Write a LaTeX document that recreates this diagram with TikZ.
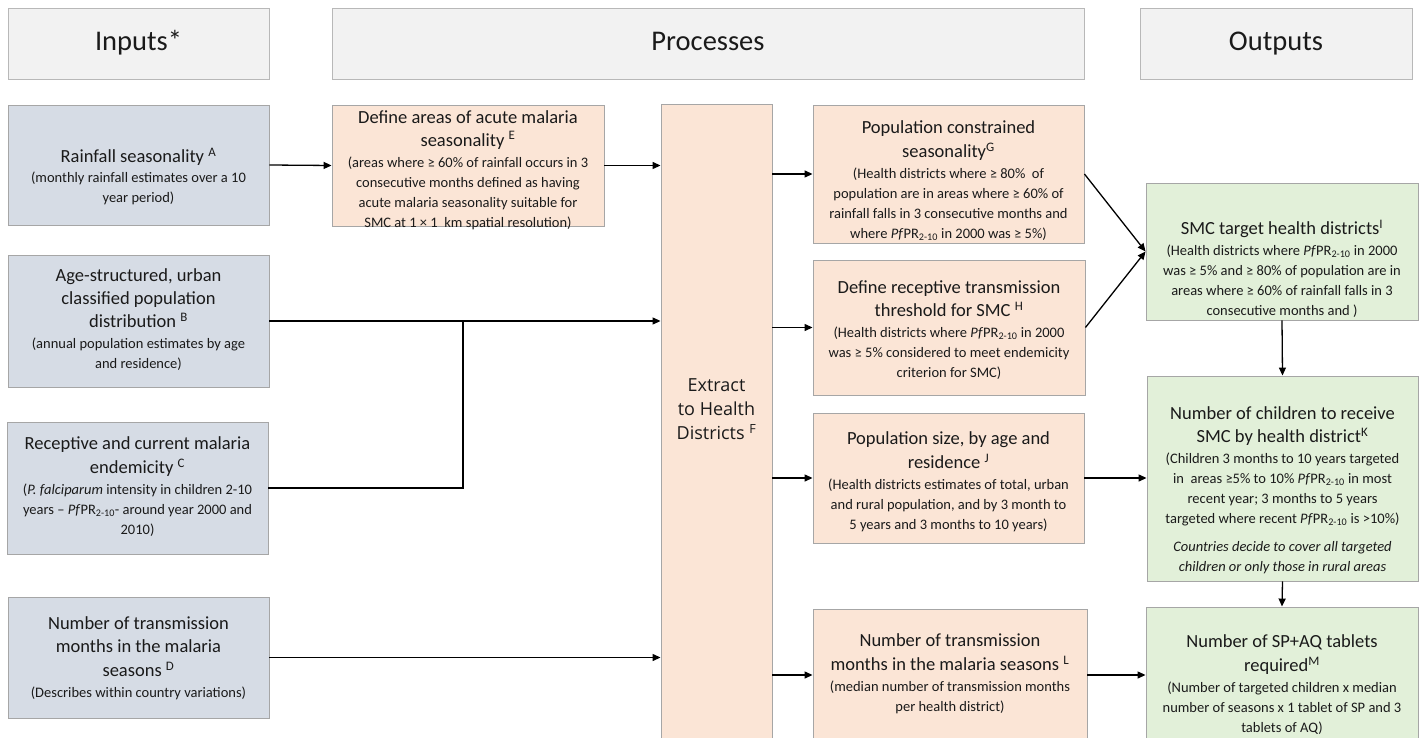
\documentclass[tikz,border=0pt]{standalone}
\usepackage{fontspec}
\setmainfont{Carlito}
\newfontfamily\extfont{Open Sans}
\usetikzlibrary{arrows.meta}
\definecolor{inpfill}{HTML}{D6DCE5}
\definecolor{prcfill}{HTML}{FBE5D6}
\definecolor{outfill}{HTML}{E2F0D9}
\definecolor{hdrfill}{HTML}{F2F2F2}
\definecolor{bordc}{HTML}{A6A6A6}
\definecolor{txtc}{HTML}{1A1A1A}
\newcommand{\ttl}[1]{{\fontsize{18.5}{24}\selectfont #1}}
\newcommand{\pf}{\textit{Pf}PR\textsubscript{2-10}}
% text block lowered by #1 (pt) relative to box centre
\newcommand{\tb}[2]{\raisebox{\dimexpr-#1pt-3.6pt\relax}[0pt][0pt]{\begin{tabular}{@{}c@{}}#2\end{tabular}}}
\tikzset{
  box/.style={draw=bordc, line width=0.9pt, rectangle, inner sep=0pt, align=center, text=txtc,
    font=\fontsize{14.5}{20}\selectfont},
  hdr/.style={box, fill=hdrfill, draw=bordc!80, minimum height=71pt, text height=20pt, text depth=6pt,
    font=\fontsize{28.5}{34}\selectfont},
  inp/.style={box, fill=inpfill, minimum width=261pt},
  prc/.style={box, fill=prcfill, minimum width=272pt},
  outb/.style={box, fill=outfill, minimum width=272pt},
  arr/.style={line width=1.3pt, -{Triangle[length=8pt,width=7pt]}},
  ln/.style={line width=1.3pt}
}
\begin{document}
\begin{tikzpicture}[x=1pt,y=-1pt]
\useasboundingbox (0,0) rectangle (1422,738);
% headers
\node[hdr, minimum width=261pt] (hin) at (138.5,43.5) {Inputs*};
\node[hdr, minimum width=752pt] (hpr) at (708,43.5) {Processes};
\node[hdr, minimum width=272pt] (hout) at (1276,43.5) {Outputs};
% inputs
\node[inp, minimum height=120pt] (A) at (138.5,165) {\tb{13}{\ttl{Rainfall seasonality \textsuperscript{A}}\\[0pt]
(monthly rainfall estimates over a 10\\ year period)}};
\node[inp, minimum height=132pt] (B) at (138.5,321) {\tb{0}{\ttl{Age-structured, urban}\\[3pt]
\ttl{classified population}\\[3pt]\ttl{distribution \textsuperscript{B}}\\[1pt]
(annual population estimates by age\\ and residence)}};
\node[inp, minimum height=132pt] (C) at (137.5,488) {\tb{0}{\ttl{Receptive and current malaria}\\[3pt]
\ttl{endemicity \textsuperscript{C}}\\[1pt]
(\textit{P. falciparum} intensity in children 2-10\\
years – \pf- around year 2000 and\\ 2010)}};
\node[inp, minimum height=121pt] (D) at (138.5,657.5) {\tb{2}{\ttl{Number of transmission}\\[3pt]
\ttl{months in the malaria}\\[3pt]\ttl{seasons \textsuperscript{D}}\\[1pt]
(Describes within country variations)}};
% processes
\node[prc, minimum height=121pt] (E) at (468,165.5) {\tb{6}{\ttl{Define areas of acute malaria}\\[1.5pt]
\ttl{seasonality \textsuperscript{E}}\\[1pt]
(areas where ≥ 60\% of rainfall occurs in 3\\
consecutive months defined as having\\
acute malaria seasonality suitable for\\
SMC at 1 × 1\ \ km spatial resolution)}};
\node[box, fill=prcfill, minimum width=111pt, minimum height=642pt] (F) at (716.5,425) {\raisebox{10pt}[0pt][0pt]{\extfont\fontsize{18}{24}\selectfont\begin{tabular}{@{}c@{}}Extract\\ to Health\\ Districts \textsuperscript{F}\end{tabular}}};
\node[prc, minimum width=271pt, minimum height=138pt] (G) at (948.5,174) {\tb{8}{\ttl{Population constrained}\\[3pt]
\ttl{seasonality\textsuperscript{G}}\\[1pt]
(Health districts where ≥ 80\%\ \ of\\
population are in areas where ≥ 60\% of\\
rainfall falls in 3 consecutive months and\\
where \pf\ in 2000 was ≥ 5\%)}};
\node[prc, minimum height=135pt] (H) at (949,327.5) {\tb{4}{\ttl{Define receptive transmission}\\[3pt]
\ttl{threshold for SMC \textsuperscript{H}}\\[1pt]
(Health districts where \pf\ in 2000\\
was ≥ 5\% considered to meet endemicity\\
criterion for SMC)}};
\node[prc, minimum width=271pt, minimum height=130pt] (J) at (948.5,478) {\tb{5}{\ttl{Population size, by age and}\\[3pt]
\ttl{residence \textsuperscript{J}}\\[1pt]
(Health districts estimates of total, urban\\
and rural population, and by 3 month to\\
5 years and 3 months to 10 years)}};
\node[prc, minimum width=274pt, minimum height=132pt] (L) at (950,675) {\tb{0}{\ttl{Number of transmission}\\[3pt]
\ttl{months in the malaria seasons \textsuperscript{L}}\\[1pt]
(median number of transmission months\\
per health district)}};
% outputs
\node[outb, minimum height=137pt] (I) at (1282,251.5) {\tb{19}{\ttl{SMC target health districts\textsuperscript{I}}\\[1pt]
(Health districts where \pf\ in 2000\\
was ≥ 5\% and ≥ 80\% of population are in\\
areas where ≥ 60\% of rainfall falls in 3\\
consecutive months and )}};
\node[outb, minimum width=271pt, minimum height=205pt] (K) at (1282.5,478.5) {\tb{13}{\ttl{Number of children to receive}\\[3pt]
\ttl{SMC by health district\textsuperscript{K}}\\[1pt]
(Children 3 months to 10 years targeted\\
in\ \ areas ≥5\% to 10\% \pf\ in most\\
recent year; 3 months to 5 years\\
targeted where recent \pf\ is >10\%)\\[8pt]
\textit{Countries decide to cover all targeted}\\
\textit{children or only those in rural areas}}};
\node[outb, minimum height=138pt] (M) at (1282,676) {\tb{10}{\ttl{Number of SP+AQ tablets}\\[3pt]
\ttl{required\textsuperscript{M}}\\[1pt]
(Number of targeted children x median\\
number of seasons x 1 tablet of SP and 3\\
tablets of AQ)}};
% connectors
\coordinate (jx) at (463,0);
\draw[arr] (A.east) -- (E.west);
\draw[arr] (E.east) -- (E.east -| F.west);
\draw[arr] (B.east) -- (B.east -| F.west);
\draw[ln] (C.east) -- (C.east -| jx) -- (B.east -| jx);
\draw[arr] (D.east) -- (D.east -| F.west);
\draw[arr] (G.west -| F.east) -- (G.west);
\draw[arr] (H.west -| F.east) -- (H.west);
\draw[arr] (J.west -| F.east) -- (J.west);
\draw[arr] (L.west -| F.east) -- (L.west);
\draw[arr] (G.east) -- (I.west);
\draw[arr] (H.east) -- (I.west);
\draw[arr] (I.south) -- (K.north);
\draw[arr] (J.east) -- (J.east -| K.west);
\draw[arr] (K.south) -- (M.north);
\draw[arr] (L.east) -- (L.east -| M.west);
\end{tikzpicture}
\end{document}
